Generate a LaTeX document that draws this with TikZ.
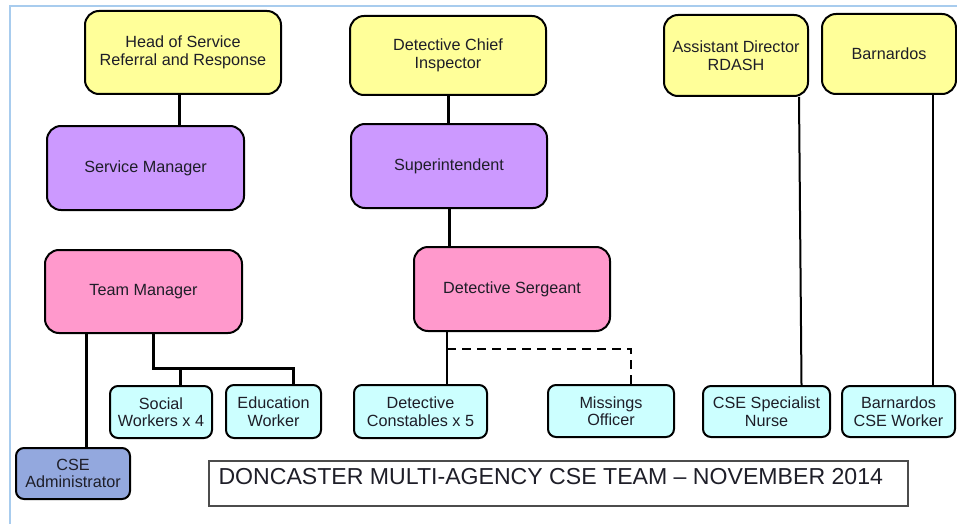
\documentclass[tikz,border=0pt]{standalone}
\usepackage{fontspec}
\setmainfont{Liberation Sans}
\definecolor{cyel}{HTML}{FFFF99}
\definecolor{cpur}{HTML}{CC99FF}
\definecolor{cpink}{HTML}{FF99CC}
\definecolor{ccyan}{HTML}{CCFFFF}
\definecolor{cadm}{HTML}{93A8DE}
\definecolor{cframe}{HTML}{A8CCEE}
\definecolor{ctext}{HTML}{1E1E28}
\begin{document}
\begin{tikzpicture}[x=1pt,y=-1pt,
  box/.style={draw=black, line width=2pt, align=center, text=ctext,
    font=\fontsize{16.2}{17.5}\selectfont, inner sep=2pt},
  bigbox/.style={box, rounded corners=14pt},
  smallbox/.style={box, rounded corners=8pt},
  conn/.style={draw=black, line width=3pt},
  thinconn/.style={draw=black, line width=2pt},
  dashconn/.style={draw=black, line width=2.2pt, dash pattern=on 9pt off 6pt}
]
\useasboundingbox (0,0) rectangle (957,524);
\fill[white] (0,0) rectangle (957,524);
\draw[cframe, line width=1.5pt] (10,524) -- (10,6) -- (957,6);

% top row
\node[bigbox, fill=cyel, minimum width=196pt, minimum height=83pt] (hos) at (183,52.5) {Head of Service\\Referral and Response};
\node[bigbox, fill=cyel, minimum width=196pt, minimum height=79pt] (dci) at (448,55.5) {Detective Chief\\Inspector};
\node[bigbox, fill=cyel, minimum width=144pt, minimum height=81pt] (ad) at (736,55.5) {Assistant Director\\RDASH};
\node[bigbox, fill=cyel, minimum width=134pt, minimum height=80pt] (barn) at (889,54) {Barnardos};

% second row
\node[bigbox, fill=cpur, minimum width=197pt, minimum height=84pt] (sm) at (145.5,168) {Service Manager};
\node[bigbox, fill=cpur, minimum width=196pt, minimum height=84pt] (sup) at (449,166) {Superintendent};

% third row
\node[bigbox, fill=cpink, minimum width=197pt, minimum height=83pt] (tm) at (143.5,291.5) {Team Manager};
\node[bigbox, fill=cpink, minimum width=196pt, minimum height=84pt] (ds) at (512,289) {Detective Sergeant};

% small boxes
\node[smallbox, fill=ccyan, minimum width=102pt, minimum height=52pt] (sw) at (161,412) {Social\\Workers x 4};
\node[smallbox, fill=ccyan, minimum width=95pt, minimum height=53pt] (ew) at (273.5,411.5) {Education\\Worker};
\node[smallbox, fill=ccyan, minimum width=133pt, minimum height=53pt] (dc) at (420.5,411.5) {Detective\\Constables x 5};
\node[smallbox, fill=ccyan, minimum width=126pt, minimum height=52pt] (mo) at (611,411) {Missings\\Officer};
\node[smallbox, fill=ccyan, minimum width=127pt, minimum height=51pt] (nurse) at (766.5,411.5) {CSE Specialist\\Nurse};
\node[smallbox, fill=ccyan, minimum width=113pt, minimum height=51pt] (bcw) at (898.5,411.5) {Barnardos\\CSE Worker};
\node[smallbox, fill=cadm, minimum width=114pt, minimum height=51pt] (admin) at (73,473.5) {CSE\\Administrator};

% title
\node[draw=black!70, line width=1.3pt, minimum width=699pt, minimum height=45pt] (title) at (558.5,483.5) {};
\node[anchor=west, text=ctext, font=\fontsize{23.1}{26}\selectfont, inner sep=0pt] (titletext) at ([xshift=10pt,yshift=6.5pt]title.west) {DONCASTER MULTI-AGENCY CSE TEAM – NOVEMBER 2014};

% connectors
\draw[conn] ([xshift=-4pt]hos.south) -- ([xshift=-4pt]hos.south |- sm.north);
\draw[conn] (dci.south) -- (dci.south |- sup.north);
\draw[conn] (sup.south) -- (sup.south |- ds.north);
\draw[conn] ([xshift=13pt]admin.north) -- ([xshift=13pt]admin.north |- tm.south);
\coordinate (busl) at ([xshift=9.5pt,yshift=-34pt]tm.south);
\draw[conn] ([xshift=9.5pt]tm.south) -- (busl) -| ([xshift=19.5pt]ew.north);
\draw[conn] ([xshift=19pt]sw.north) -- ([xshift=19pt]sw.north |- busl);
\draw[thinconn] ([xshift=26.5pt]dc.north) -- ([xshift=26.5pt]dc.north |- ds.south);
\coordinate (dashl) at ([xshift=26.5pt,yshift=35pt]dc.north);
\draw[dashconn] (dashl) -| ([xshift=20pt]mo.north);
\draw[thinconn] ([xshift=63pt]ad.south) -- ([xshift=35pt]nurse.north);
\draw[thinconn] ([xshift=44pt]barn.south) -- ([xshift=34.5pt]bcw.north);
\end{tikzpicture}
\end{document}
